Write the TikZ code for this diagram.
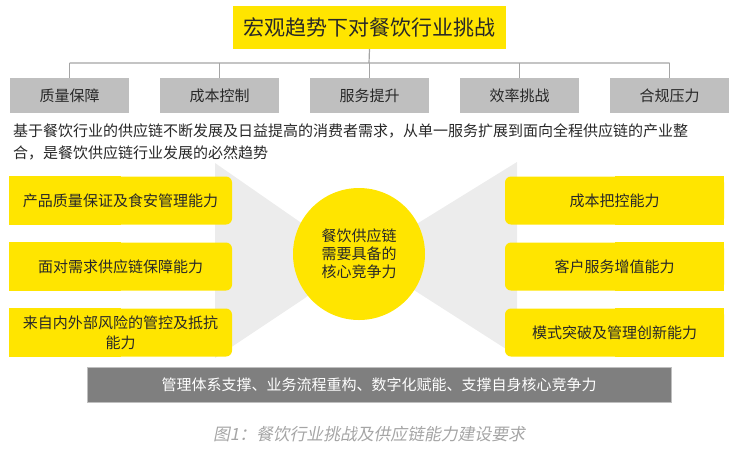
\documentclass[tikz,border=0pt]{standalone}
\usepackage{fontspec}
\setmainfont{Noto Sans CJK SC}
\newfontfamily\capfont[FakeSlant=0.2]{Noto Sans CJK SC}
\usepackage{xcolor}
\usetikzlibrary{backgrounds}
\definecolor{trendyellow}{RGB}{255,229,0}
\definecolor{boxgray}{RGB}{191,191,191}
\definecolor{bargray}{RGB}{127,127,127}
\definecolor{funnelgray}{RGB}{236,236,236}
\definecolor{linegray}{RGB}{165,165,165}
\definecolor{capgray}{RGB}{165,165,165}
\definecolor{inkgray}{RGB}{40,40,40}

\begin{document}
\begin{tikzpicture}[x=1pt,y=-1pt,
    challenge/.style={fill=boxgray, minimum width=119pt, minimum height=35pt, inner sep=0pt, text=inkgray, font=\fontsize{15}{18}\selectfont},
    ability/.style={fill=trendyellow, rounded corners=6pt, minimum height=48pt, inner sep=0pt, align=center, text=inkgray, font=\fontsize{15}{20}\selectfont},
    link/.style={linegray, line width=1.2pt}]
        \useasboundingbox (0,0) rectangle (747,459);
        \node[fill=trendyellow, minimum width=273pt, minimum height=43pt, inner sep=0pt, text=inkgray, font=\fontsize{21}{24}\selectfont] (trend) at (369.5,27.5) {宏观趋势下对餐饮行业挑战};
        \coordinate (fork) at (369,63);
        \foreach \i / \txt in {0/质量保障,1/成本控制,2/服务提升,3/效率挑战,4/合规压力} {
            \node[challenge] (c\i) at ({69.5+150*\i},95.5) {\txt};
            \draw[link] (c\i.north) -- (c\i.north |- fork);
        };
        \draw[link] (trend.south) -- (fork) (c0.north |- fork) -- (c4.north |- fork);
        \node[anchor=west, align=left, text=inkgray, font=\fontsize{15}{22}\selectfont, inner sep=0pt] (trendtext) at (13,142) {基于餐饮行业的供应链不断发展及日益提高的消费者需求，从单一服务扩展到面向全程供应链的产业整\\合，是餐饮供应链行业发展的必然趋势};
        \node[circle, fill=trendyellow, minimum size=132pt, inner sep=0pt, align=center, text=inkgray, font=\fontsize{15}{18}\selectfont] (core) at (359,254) {餐饮供应链\\需要具备的\\核心竞争力};
        \foreach \i / \y / \txt in {0/200.5/产品质量保证及食安管理能力,1/266.5/面对需求供应链保障能力,2/332.5/来自内外部风险的管控及抵抗\\能力} {
            \node[ability, minimum width=223pt] (l\i) at (120.5,\y) {\txt};
        };
        \foreach \i / \y / \txt in {0/200.5/成本把控能力,1/266.5/客户服务增值能力,2/332.5/模式突破及管理创新能力} {
            \node[ability, minimum width=219pt] (r\i) at (614.5,\y) {\txt};
        };
        \begin{scope}[on background layer]
            \fill[funnelgray] (215,163) -- (300,222) -- (core.center) -- (305,298) -- (215,358) -- cycle;
            \fill[funnelgray] (517,162) -- (415,225) -- (core.center) -- (417,292) -- (517,356) -- cycle;
            \foreach \i in {0,1,2} {
                \fill[trendyellow] (l\i.north west) rectangle (l\i.south);
                \fill[trendyellow] (r\i.north east) rectangle (r\i.south);
            };
        \end{scope}
        \node[fill=bargray, draw=boxgray, line width=0.8pt, minimum width=584pt, minimum height=35pt, inner sep=0pt, text=white, font=\fontsize{15}{18}\selectfont] (support) at (379,384.5) {管理体系支撑、业务流程重构、数字化赋能、支撑自身核心竞争力};
        \node[text=capgray, font=\capfont\fontsize{16.8}{19}\selectfont, inner sep=0pt] (caption) at (369,434) {图1：餐饮行业挑战及供应链能力建设要求};
    \end{tikzpicture}
\end{document}
